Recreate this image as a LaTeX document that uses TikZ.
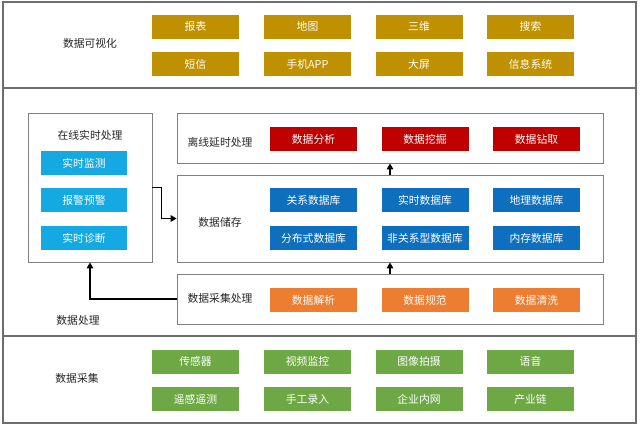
\documentclass[tikz,border=0pt]{standalone}
\usepackage{fontspec}
\setmainfont{Noto Sans CJK SC}
\usetikzlibrary{arrows.meta}
\definecolor{gold}{HTML}{BF9000}
\definecolor{cyanbox}{HTML}{14A9E3}
\definecolor{bluebox}{HTML}{0E6FBF}
\definecolor{redbox}{HTML}{C00000}
\definecolor{orangebox}{HTML}{ED7D31}
\definecolor{greenbox}{HTML}{6DA845}
\definecolor{frame}{HTML}{6E6E6E}
\definecolor{subframe}{HTML}{808080}
\definecolor{labeltext}{HTML}{262626}
\tikzset{
  item/.style={minimum width=87pt, minimum height=24pt, inner sep=0pt,
    text=white, font=\fontsize{10.8}{12}\selectfont},
  golditem/.style={item, fill=gold},
  cyanitem/.style={item, fill=cyanbox, minimum width=86pt},
  blueitem/.style={item, fill=bluebox},
  reditem/.style={item, fill=redbox},
  orangeitem/.style={item, fill=orangebox},
  greenitem/.style={item, fill=greenbox},
  layer/.style={draw=frame, line width=1.2pt, inner sep=0pt},
  panel/.style={draw=subframe, line width=0.8pt, inner sep=0pt},
  caption/.style={text=labeltext, inner sep=0pt, font=\fontsize{10.8}{12}\selectfont},
  flow/.style={draw=black, line width=1.5pt, -{Triangle[length=6pt,width=6.5pt]}}
}
\begin{document}
\begin{tikzpicture}[x=1pt,y=-1pt]
\useasboundingbox (0,0) rectangle (640,429);
\fill[white] (0,0) rectangle (640,429);

% three horizontal layers
\node[layer, minimum width=633pt, minimum height=86pt] (vis) at (319.5,45) {};
\node[layer, minimum width=633pt, minimum height=248pt] (proc) at (319.5,212) {};
\node[layer, minimum width=633pt, minimum height=87pt] (coll) at (319.5,379.5) {};

% visualisation layer
\node[caption] (visl) at (90,43) {数据可视化};
\node[golditem] (v1) at (195.5,26.5) {报表};
\node[golditem] (v2) at (307.5,26.5) {地图};
\node[golditem] (v3) at (419,26.5) {三维};
\node[golditem] (v4) at (530.5,26.5) {搜索};
\node[golditem] (v5) at (195.5,64) {短信};
\node[golditem] (v6) at (307.5,64) {手机APP};
\node[golditem] (v7) at (419,64) {大屏};
\node[golditem] (v8) at (530.5,64) {信息系统};

% processing layer
\node[caption] (procl) at (78,320) {数据处理};

\node[panel, minimum width=124pt, minimum height=149pt] (online) at (90,187.5) {};
\node[caption] (onlinel) at (90,135) {在线实时处理};
\node[cyanitem] (o1) at (84,163) {实时监测};
\node[cyanitem] (o2) at (84,200) {报警预警};
\node[cyanitem] (o3) at (84,238) {实时诊断};

\node[panel, minimum width=426pt, minimum height=50pt] (offline) at (390,138) {};
\node[caption] (offlinel) at (220,142) {离线延时处理};
\node[reditem] (r1) at (313.5,139) {数据分析};
\node[reditem] (r2) at (425,139) {数据挖掘};
\node[reditem] (r3) at (536.5,139) {数据钻取};

\node[panel, minimum width=426pt, minimum height=87pt] (store) at (390,218.5) {};
\node[caption] (storel) at (220,222) {数据储存};
\node[blueitem] (s1) at (313.5,200) {关系数据库};
\node[blueitem] (s2) at (425,200) {实时数据库};
\node[blueitem] (s3) at (536.5,200) {地理数据库};
\node[blueitem] (s4) at (313.5,238) {分布式数据库};
\node[blueitem] (s5) at (425,238) {非关系型数据库};
\node[blueitem] (s6) at (536.5,238) {内存数据库};

\node[panel, minimum width=426pt, minimum height=50pt] (collect) at (390,299) {};
\node[caption] (collectl) at (220,298) {数据采集处理};
\node[orangeitem] (c1) at (313.5,300) {数据解析};
\node[orangeitem] (c2) at (425,300) {数据规范};
\node[orangeitem] (c3) at (536.5,300) {数据清洗};

% connectors
\draw[flow] (online.east) -- ++(9,0) |- (store.west);
\draw[flow] (collect.west) -| (online.south);
\draw[flow] (collect.north) -- (store.south);
\draw[flow] (store.north) -- (offline.south);

% collection layer
\node[caption] (colll) at (77,378) {数据采集};
\node[greenitem] (g1) at (195.5,361.5) {传感器};
\node[greenitem] (g2) at (307.5,361.5) {视频监控};
\node[greenitem] (g3) at (419,361.5) {图像拍摄};
\node[greenitem] (g4) at (530.5,361.5) {语音};
\node[greenitem] (g5) at (195.5,399) {遥感遥测};
\node[greenitem] (g6) at (307.5,399) {手工录入};
\node[greenitem] (g7) at (419,399) {企业内网};
\node[greenitem] (g8) at (530.5,399) {产业链};
\end{tikzpicture}
\end{document}
